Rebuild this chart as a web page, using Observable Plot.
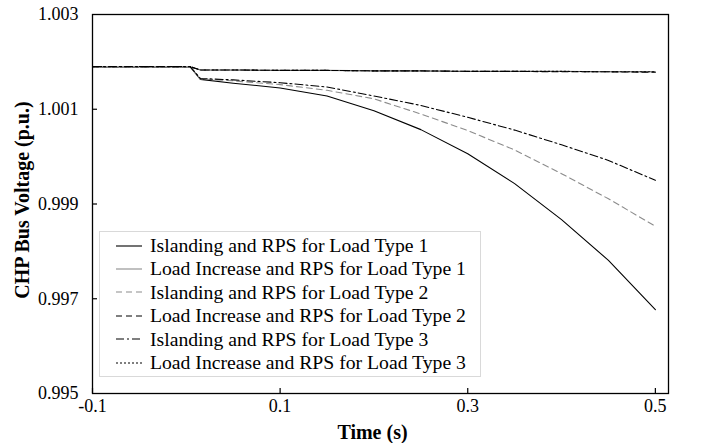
<!DOCTYPE html>
<html><head><meta charset="utf-8">
<script src="https://cdn.jsdelivr.net/npm/d3@7"></script>
<script src="https://cdn.jsdelivr.net/npm/@observablehq/plot@0.6"></script>
<style>
html,body{margin:0;padding:0;background:#fff;}
#wrap{position:relative;width:701px;height:443px;font-family:"Liberation Serif","Times New Roman",serif;}
#legend{position:absolute;left:99px;top:231px;width:382px;height:146px;border:1px solid #d9d9d9;background:#fff;box-sizing:border-box;}
.row{position:absolute;left:0;height:24px;display:flex;align-items:center;font-size:19.7px;white-space:nowrap;color:#000;}
.row svg{margin-left:16px;margin-right:8px;}
</style></head><body><div id="wrap"></div>
<script>
// Time axis (s)
const times = [-0.1, 0.004, 0.015, 0.05, 0.1, 0.15, 0.2, 0.25, 0.3, 0.35, 0.4, 0.45, 0.5];
// CHP bus voltage (p.u.) per scenario
const islanding1 = [1.0019, 1.0019, 1.00163, 1.00155, 1.00145, 1.00128, 1.00097, 1.00057, 1.00006, 0.99943, 0.99867, 0.99781, 0.99677];
const loadInc1   = [1.0019, 1.0019, 1.00183, 1.00183, 1.00182, 1.00182, 1.00181, 1.00181, 1.00180, 1.00180, 1.00180, 1.00179, 1.00179];
const islanding2 = [1.0019, 1.0019, 1.00164, 1.00160, 1.00152, 1.00140, 1.00122, 1.00090, 1.00055, 1.00014, 0.99964, 0.99911, 0.99853];
const loadInc2   = [1.0019, 1.0019, 1.00183, 1.00183, 1.00182, 1.00182, 1.00181, 1.00181, 1.00180, 1.00180, 1.00179, 1.00179, 1.00178];
const islanding3 = [1.0019, 1.0019, 1.00165, 1.00162, 1.00156, 1.00147, 1.00128, 1.00108, 1.00083, 1.00056, 1.00025, 0.99992, 0.99950];
const loadInc3   = [1.0019, 1.0019, 1.00183, 1.00183, 1.00182, 1.00182, 1.00181, 1.00181, 1.00180, 1.00180, 1.00180, 1.00179, 1.00179];

const seriesNames = [
  "Islanding and RPS for Load Type 1",
  "Load Increase and RPS for Load Type 1",
  "Islanding and RPS for Load Type 2",
  "Load Increase and RPS for Load Type 2",
  "Islanding and RPS for Load Type 3",
  "Load Increase and RPS for Load Type 3"
];
const seriesValues = [islanding1, loadInc1, islanding2, loadInc2, islanding3, loadInc3];

const xTicks = [-0.1, 0.1, 0.3, 0.5];
const yTicks = [0.995, 0.997, 0.999, 1.001, 1.003];

// styles (not data)
const styles = [
  {stroke: "#000", dash: null, width: 1.1},
  {stroke: "#8c8c8c", dash: null, width: 1.1},
  {stroke: "#8c8c8c", dash: "6,4", width: 1.1},
  {stroke: "#000", dash: "6,4", width: 1.1},
  {stroke: "#000", dash: "8,3,2,3", width: 1.1},
  {stroke: "#000", dash: "2,2", width: 1.1}
];

const rows = seriesNames.map((name, i) => times.map((t, j) => ({series: name, t, v: seriesValues[i][j]})));

const W = 701, H = 443, mL = 92, mR = 33, mT = 14, mB = 50;
const plotW = W - mL - mR, plotH = H - mT - mB;

const lineMarks = rows.map((d, i) => Plot.line(d, {
  x: "t", y: "v", stroke: styles[i].stroke, strokeWidth: styles[i].width,
  strokeDasharray: styles[i].dash || undefined
}));
// draw load-increase lines first, islanding on top
const order = [1, 3, 5, 0, 2, 4];

const chart = Plot.plot({
  width: W, height: H,
  marginLeft: mL, marginRight: mR, marginTop: mT, marginBottom: mB,
  style: {fontFamily: '"Liberation Serif","Times New Roman",serif', fontSize: "18px", background: "white", color: "black"},
  x: {domain: [-0.1, 0.514]},
  y: {domain: [0.995, 1.003]},
  marks: [
    ...order.map(i => lineMarks[i]),
    Plot.frame({stroke: "black", strokeWidth: 1.3}),
    Plot.tickX(xTicks, {x: d => d, insetTop: plotH - 5, stroke: "black", strokeWidth: 1.2}),
    Plot.tickY(yTicks.slice(1, -1), {y: d => d, insetRight: plotW - 5, stroke: "black", strokeWidth: 1.2}),
    Plot.axisX(xTicks, {tickSize: 0, tickPadding: 6, tickFormat: d => d.toFixed(1), label: null, fontSize: 18}),
    Plot.axisY(yTicks, {tickSize: 0, tickPadding: 14, tickFormat: d => d.toFixed(3), label: null, fontSize: 18}),
    Plot.text(["Time (s)"], {frameAnchor: "bottom", textAnchor: "middle", lineAnchor: "middle", dx: -8, dy: 39, fontWeight: "bold", fontSize: 20}),
    Plot.text(["CHP Bus Voltage (p.u.)"], {frameAnchor: "left", textAnchor: "middle", lineAnchor: "middle", dx: -70, dy: -4, rotate: -90, fontWeight: "bold", fontSize: 20})
  ]
});

const wrap = document.getElementById("wrap");
wrap.appendChild(chart);

const legend = document.createElement("div");
legend.id = "legend";
seriesNames.forEach((name, i) => {
  const row = document.createElement("div");
  row.className = "row";
  row.style.top = (13.5 + i * 23.4 - 12) + "px";
  const s = styles[i];
  row.innerHTML = `<svg width="26" height="10"><line x1="0" x2="26" y1="5" y2="5" stroke="${s.stroke}" stroke-width="${s.width}" ${s.dash ? `stroke-dasharray="${s.dash}"` : ""}/></svg><span>${name}</span>`;
  legend.appendChild(row);
});
wrap.appendChild(legend);
</script>
</body></html>
